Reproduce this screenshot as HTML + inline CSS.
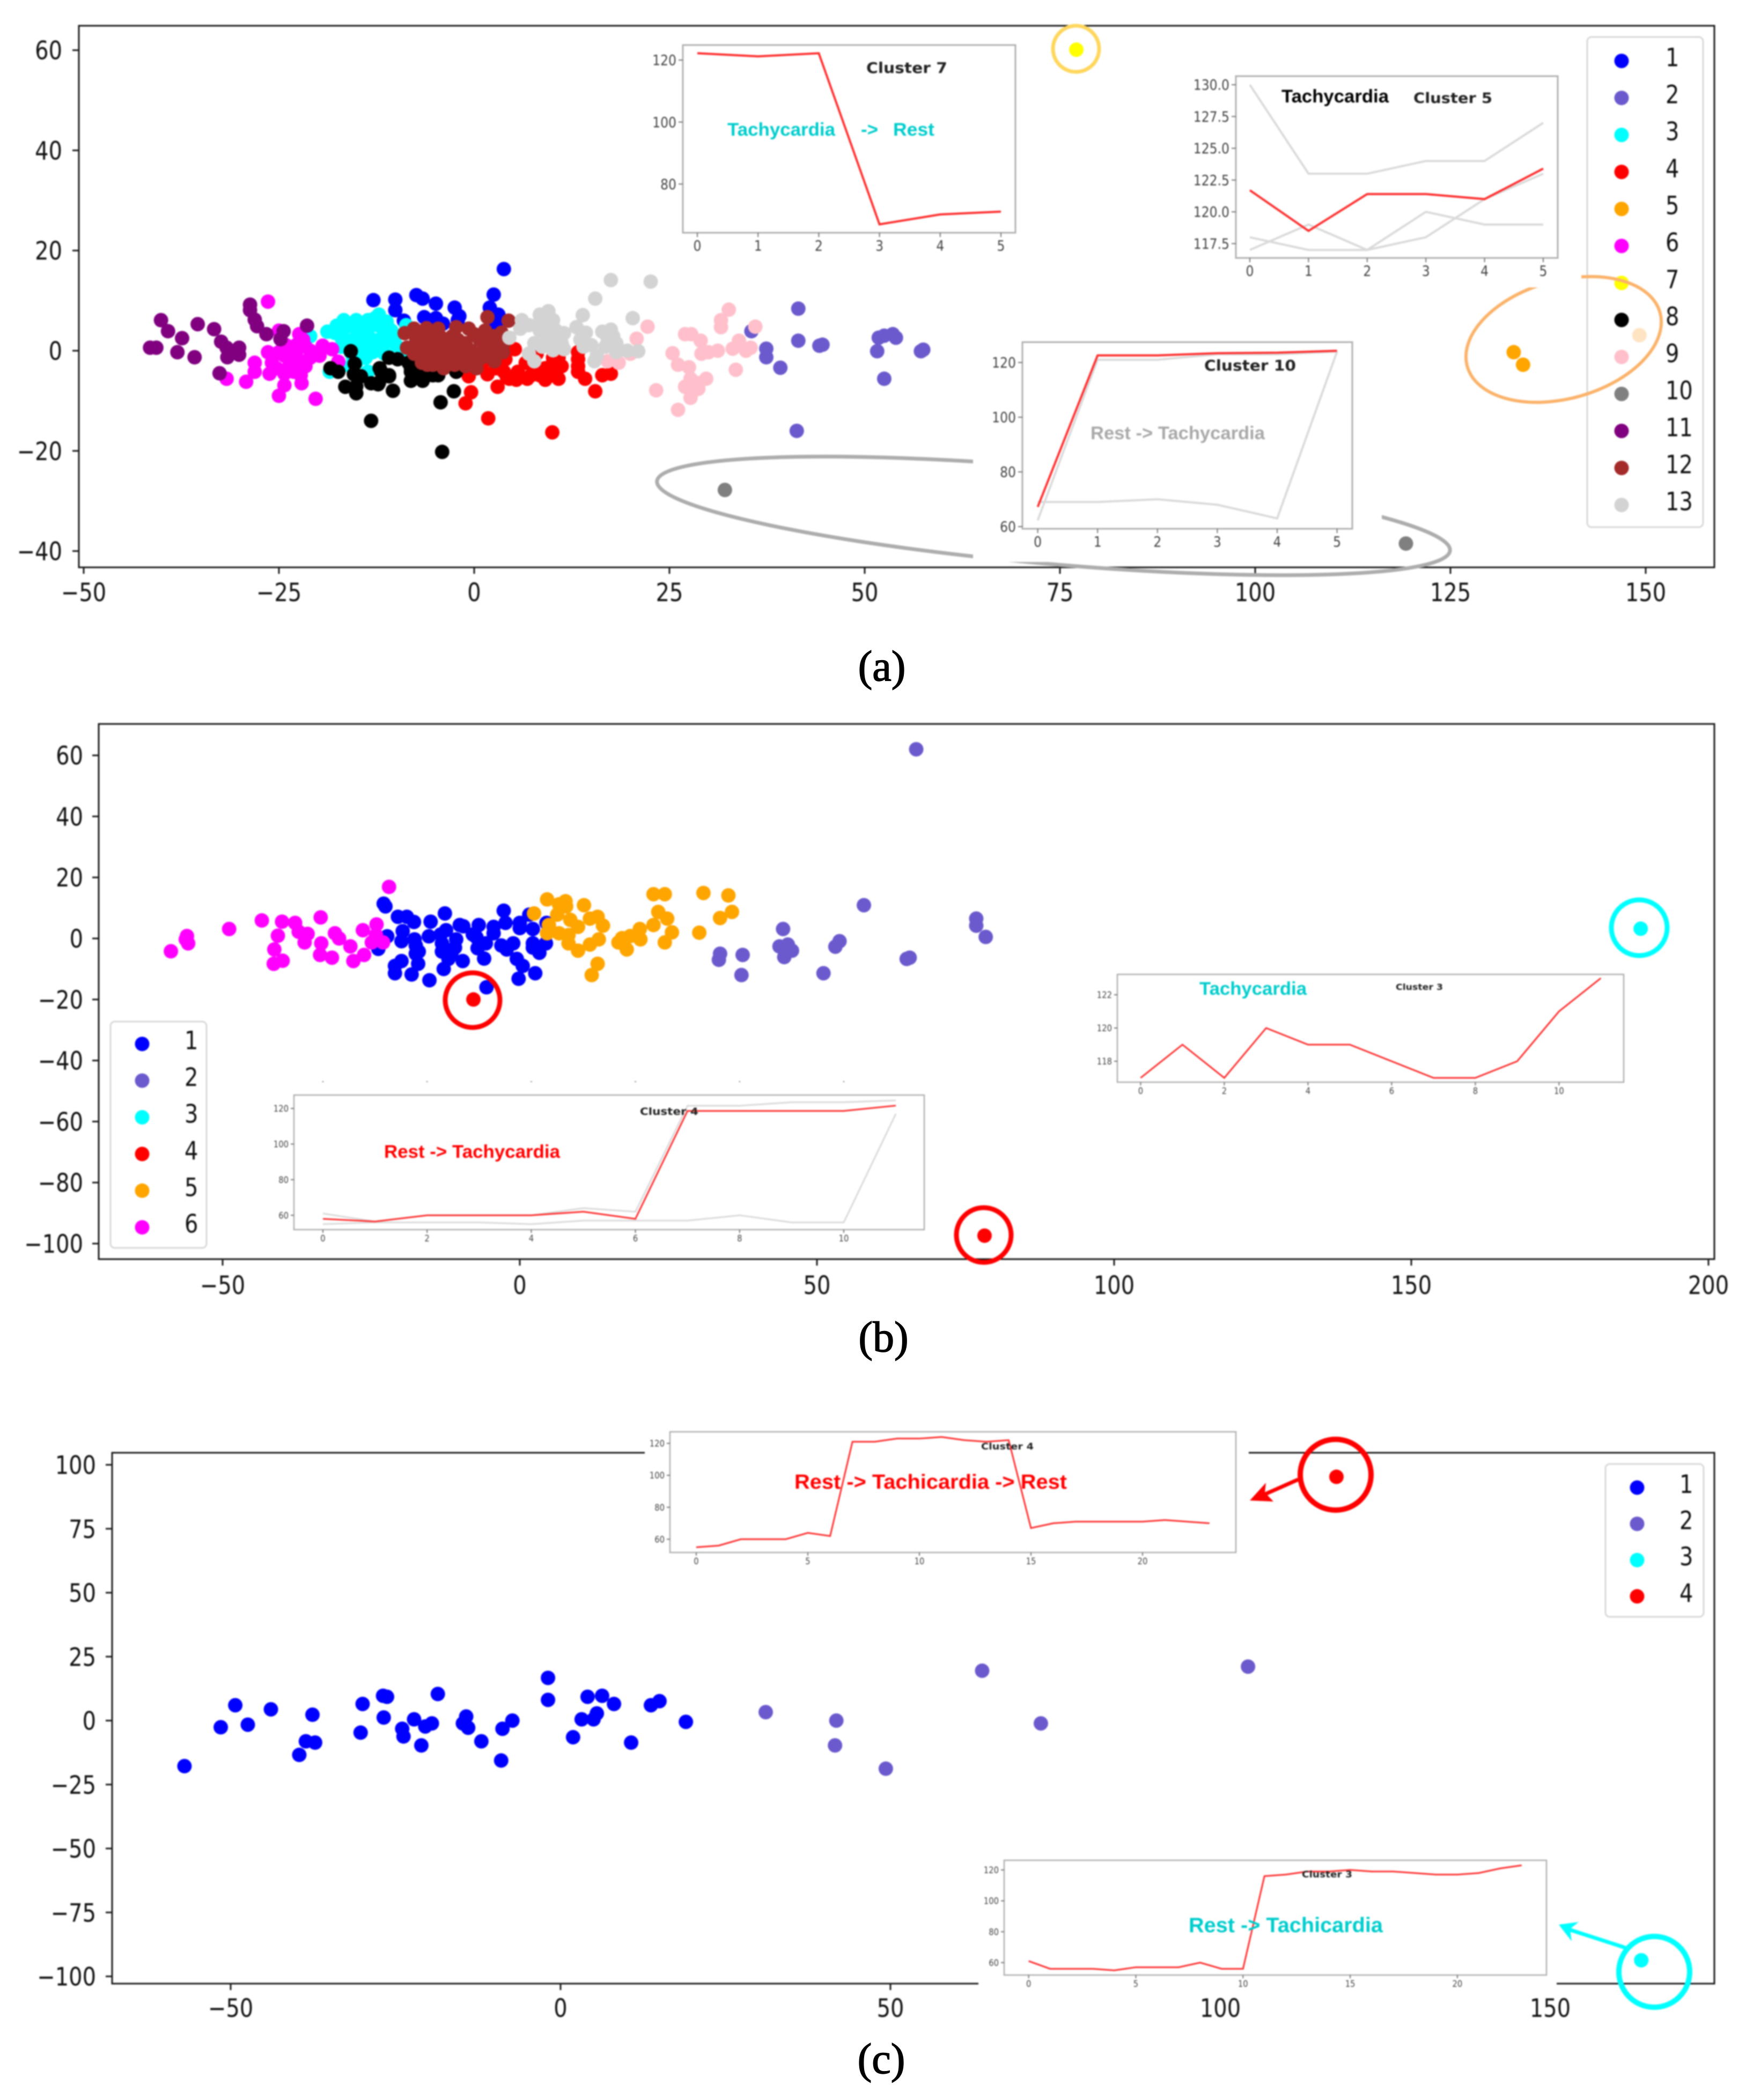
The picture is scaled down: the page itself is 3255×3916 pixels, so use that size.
<!DOCTYPE html>
<html lang="en">
<head>
<meta charset="utf-8">
<title>Cluster scatter plots with heart-rate insets</title>
<style>
html,body{margin:0;padding:0;background:#fff;}
svg{display:block;}
</style>
</head>
<body>
<svg id="figure" xmlns="http://www.w3.org/2000/svg" width="3255" height="3916" viewBox="0 0 3255 3916">
<defs>
<filter id="soft" filterUnits="userSpaceOnUse" x="0" y="0" width="3255" height="3916" color-interpolation-filters="sRGB"><feGaussianBlur stdDeviation="1.3"/></filter>
</defs>
<rect x="0" y="0" width="3255" height="3916" fill="#ffffff"/>
<g id="panelA" filter="url(#soft)"></g>
<g id="panelB" filter="url(#soft)"></g>
<g id="panelC" filter="url(#soft)"></g>
<text x="1644" y="1269" font-family="'Liberation Serif',serif" font-size="80" text-anchor="middle" fill="#000" stroke="#000" stroke-width="1.5">(a)</text>
<text x="1647" y="2520" font-family="'Liberation Serif',serif" font-size="80" text-anchor="middle" fill="#000" stroke="#000" stroke-width="1.5">(b)</text>
<text x="1643" y="3866" font-family="'Liberation Serif',serif" font-size="80" text-anchor="middle" fill="#000" stroke="#000" stroke-width="1.5">(c)</text>
</svg>
<script>
// ---------- Panel (a) data ----------
const aCluster1=[[3.8,16.3],[2.5,11.2],[2,8.6],[3.1,7.2],[-7.4,11.1],[-6.6,10.4],[-4.9,9.4],[-2.5,8.6],[-1.9,6.9],[-10.1,10.2],[-10.1,8.1],[-9,6],[-6.4,6.7],[-4.9,6.5],[-4,5.4],[-2.1,6.1],[2.8,5.4],[-12.9,10.1]];
const aCluster2=[[41.5,8.4],[41.5,2],[35.5,3.9],[37.4,0.4],[37.4,-1.3],[39.2,-3.4],[41.3,-16],[44.2,1],[44.6,1.2],[51.8,2.6],[52.5,3],[53.6,3.3],[54,2.6],[51.6,-0.1],[52.5,-5.6],[57.5,0.2],[57.2,-0.1]];
const aCluster3=[[-18.8,3.8],[-17.9,3.6],[-16.7,6.1],[-15.1,6.1],[-13.6,6.1],[-12.2,7.2],[-11.2,5.8],[-16.7,4.4],[-15.1,4.4],[-13.6,4.4],[-12.4,5.1],[-10.6,4],[-17,2.6],[-15.5,2.2],[-14.2,2.9],[-13,2.2],[-11.8,2.6],[-10.6,2.2],[-14.2,0.4],[-13,-0.3],[-11.8,0.8],[-10,1.1],[-17,0.8],[-15.8,-0.3],[-13.9,-1.4],[-15.8,-3.1],[-13.6,-4.2],[-18.5,-4.2],[-21,2.9],[-8.7,5.1],[-9.3,-1],[-14.5,1.1],[-17.6,5],[-16,5],[-14.5,5.4],[-12.7,6.5],[-16.4,1.5],[-10.9,4.4],[-10.2,2.9],[-12.4,0.4],[-15.5,-1.4],[-13.6,1.5],[-11.5,-0.6],[-15.1,-2.4]];
const aCluster4=[[5.2,0.3],[4,-1.7],[1.2,-2.2],[-0.7,-5.1],[1.7,-4.7],[3,-7.2],[4.2,-5.3],[5.4,-5.8],[6.8,-5.6],[8,-0.6],[6.6,-2.4],[9.1,-5.8],[10.8,-5.6],[10.1,-1.4],[11.2,-3.1],[9.1,-3.5],[13.3,-0.3],[13.3,-3.1],[14.2,-5.6],[16.4,-4.9],[17.5,-4.6],[15.5,-8.1],[-0.4,-8.3],[-1.1,-10.5],[1.8,-13.5],[10,-16.3],[2.8,-3.5],[5.6,-4.2],[8,-3.9],[10.5,-3.9],[7.3,-4.9],[8.4,-4.9],[9.8,-3.1],[3.8,-4.2],[4.5,-5.6],[9.8,-4.9],[13.3,-4.2],[13.3,-1.7],[10.8,-1.4]];
const aCluster5=[[133.1,-0.3],[134.3,-2.8]];
const aCluster6=[[-26.4,9.8],[-31.7,-5.6],[-29.2,-6.2],[-28.1,-2.4],[-28.1,-4.2],[-26.4,-0.3],[-26.2,-4.6],[-25.9,-2.4],[-25,-9],[-24.3,-6.9],[-22.1,-6.5],[-20.3,-9.6],[-17.4,-2.2],[-19.8,-1],[-18.2,0.3],[-19.4,1],[-22.4,3.3],[-21.9,2.2],[-21.6,0.8],[-23.1,0],[-24.3,-1],[-23.4,-1.4],[-22.2,-2.1],[-21.6,-3.1],[-24.3,-4.6],[-23.1,-4.2],[-22.2,-4.9],[-25,4],[-21,-1.4],[-25,-0.3],[-24.1,1.1],[-22.8,1.1],[-21,0],[-23.7,-3.1],[-25.3,-3.5],[-22.8,-1]];
const aCluster7=[[77.1,60.1]];
const aCluster8=[[-15.8,-0.1],[-15.3,-2.6],[-18.4,-3.5],[-17.4,-4.2],[-15.4,-4.7],[-14.5,-5.1],[-16.5,-7.2],[-15.1,-8.5],[-15.1,-7.1],[-13.2,-6.5],[-12.2,-6.4],[-12.1,-3.5],[-10.9,-4.9],[-10.4,-8],[-10.9,-1.4],[-9.8,-1.7],[-8.1,-3.5],[-8.1,-6],[-6.6,-6],[-6.6,-4.2],[-5.3,-4.9],[-4.3,-10.3],[-13.2,-14],[-4.1,-20.2],[-2.6,-8.1],[-2.3,-4.2],[-11.9,-4.2],[-10.9,-5.1],[-12.3,-6.7],[-8.1,-4.2],[-7.4,-5.3],[-5.3,-4.2],[-8.4,-2.4],[-6.7,-4.9],[-4.6,-4.9]];
const aCluster9=[[32.6,8.2],[31.6,6.1],[31.6,4.7],[22.2,4.8],[20.8,2.4],[27,3.3],[27.8,3.3],[29,2],[36,4.8],[25.4,-0.5],[26.1,-2.8],[27.5,-3.3],[29.1,-0.6],[30,-0.3],[31.2,0],[33.1,0.4],[33.9,2],[34.8,0],[35.4,0.6],[33.5,-3.8],[29.7,-5.6],[27.7,-5.6],[27,-7.2],[28.7,-7.6],[27.7,-9.4],[23.3,-7.9],[26.1,-11.8],[18.5,-2.4],[17.1,-2.1],[20,-0.6],[27.7,-7.1],[28,-8.1],[28.4,-6.4]];
const aCluster10=[[32.1,-27.8],[119.3,-38.5]];
const aCluster11=[[-40.1,6.1],[-39.2,3.9],[-37.4,2.5],[-35.4,5.3],[-33.3,4.3],[-32.4,1.8],[-31.7,0.6],[-31.6,-1.3],[-30.1,0.6],[-30.1,-0.8],[-32.6,-4.5],[-38,-0.3],[-35.8,-1.3],[-41.5,0.6],[-40.7,0.6],[-28.7,9.2],[-28.7,8.1],[-28.1,6.2],[-27.8,4.9],[-26.6,3.3],[-24.4,3.9],[-24.8,2.3],[-21.4,5]];
const aCluster12=[[1.7,6.7],[4.4,6],[-8.9,3.5],[-7.7,4.4],[-6.1,4.5],[-2.3,4.7],[-0.7,4.4],[-8.6,0.6],[-7.7,-0.6],[-6,-2.8],[-3.9,-3.5],[-2.5,-2.8],[0.3,-3.5],[2.6,-2.1],[3.7,-0.3],[1.4,1.1],[1.4,4],[2.4,2.9],[3.5,3.6],[-5.6,2.9],[-4.2,2.6],[-2.8,2.9],[-1.1,1.5],[0,3.3],[-6.7,1.1],[-5.3,0.8],[-3.9,0.4],[-2.5,0.1],[-1.1,-1],[0.3,-0.6],[-6.3,-1],[-4.9,-1.4],[-3.2,-1.7],[-1.4,-2.1],[2.1,-0.3],[-7,2.9],[-7.4,2.2],[-4.6,4.4],[-6,2.2],[-3.5,1.5],[-2.1,2.2],[0.7,2.2],[-4.9,-0.3],[-3.5,-1],[-2.1,-1.4],[-0.4,0],[1,-1.4],[2.4,0.4],[-5.3,-2.8],[-6.7,-2.4],[-1.1,-3.1],[0,-2.1],[3.1,2.2],[3.8,1.5],[2.8,-0.6]];
const aCluster13=[[17.5,14.1],[22.6,13.8],[15.5,10.4],[13.9,7.1],[20.3,6.5],[9.5,7.9],[8.4,7.2],[6.1,6.1],[10.1,6.1],[7,5.1],[5.9,4.4],[4.5,2.6],[9.8,4.4],[11.5,3.5],[13.1,4.7],[14.3,3.6],[16.4,3.8],[17.5,4.2],[10.1,2.2],[7.7,1.5],[8.7,0.8],[11.5,0.3],[13.6,2.2],[15,1.1],[17.1,2.2],[18.2,1.5],[7,-0.6],[7.7,-2.1],[15.4,-2.1],[18.2,-0.3],[19.6,0],[21,-0.1],[16.8,0.8],[9.3,2.9],[8.4,4],[9.1,1.5],[10.1,0.1],[14,0.8],[17.8,2.9],[15.7,-1],[8.4,5.8],[10.5,4],[9.8,1.5],[11.2,1.5]];
const aExtraPoint=[[149.2,3.1]];
const aXTicks=[-50,-25,0,25,50,75,100,125,150];
const aYTicks=[60,40,20,0,-20,-40];
const aLegendLabels=['1','2','3','4','5','6','7','8','9','10','11','12','13'];

// ---------- Panel (b) data ----------
const bCluster1=[[-22.9,11.4],[-22.6,10.5],[-20.5,7.1],[-19,7.1],[-17.8,5.4],[-15,5.5],[-12.6,8.2],[-2.7,9.1],[1.6,7.8],[4.5,5.1],[-10.1,4.4],[-6.9,4.4],[-4.4,3.8],[-2.4,5.1],[-9.5,4],[0,3.4],[2.2,3.1],[-22.3,0.7],[-19.7,2.4],[-19.9,-0.9],[-17.7,-0.3],[-15.3,0.7],[-12.4,2.7],[-13.3,1.3],[-10.7,-0.3],[-7.9,1.3],[-7.3,0.4],[-4.4,1.7],[0,5.1],[-23.8,-3.4],[-17.5,-2.3],[-17,-4.3],[-13.1,-1.6],[-10.9,-3],[-7.1,-3.2],[-5.7,-1.6],[-3.1,-2.3],[-1.1,-1.6],[2.2,-1.6],[4.4,-1.6],[-13.1,-4.3],[-11.5,-5],[-2.2,-3.6],[3.3,-4.7],[-19.9,-7.4],[-21,-9],[-17.1,-8.3],[-12,-6.7],[-9.6,-7.4],[-6,-6.6],[-0.5,-6.7],[0.5,-9],[-21,-11.4],[-18.2,-11.8],[-15.2,-13.7],[-12.8,-10],[-0.2,-13.2],[2.6,-11.4],[-5.6,-16],[2.2,-3],[-17.5,-5]];
const bCluster2=[[66.7,62],[57.9,10.9],[44.3,3.1],[76.8,6.5],[76.8,4.2],[78.4,0.5],[53.8,-0.9],[53.1,-2.7],[43.7,-2.6],[45.1,-2],[45.8,-4],[44.5,-6.1],[33.7,-5],[33.5,-7],[37.5,-5.4],[37.3,-12],[51.1,-11.4],[65.1,-6.7],[65.6,-6.3]];
const bCluster3=[[188.6,3.2]];
const bCluster4=[[-7.8,-20],[78.2,-97.4]];
const bCluster5=[[4.6,12.8],[6.6,11.2],[7.7,12.2],[7.8,10.5],[10.8,10.9],[2.4,8.2],[6.3,7.8],[8.5,6.1],[11.8,6.5],[13.1,7.1],[9.8,3.8],[14,4.2],[4.9,4.4],[4.6,1.7],[6.6,1.7],[8.2,1.1],[13.3,-0.3],[11.8,-2],[8.2,-1.6],[9.8,-4],[16.6,-1.3],[17.2,0.1],[18.6,0.8],[20.2,3.1],[20.3,-0.3],[18,-3.6],[13.1,-8.3],[12.1,-12],[22.5,14.5],[24.4,14.5],[23.3,8.7],[24.8,6.5],[22.5,4.4],[25.6,2],[24.4,-1.3],[30.9,14.9],[35.1,14.1],[35.7,8.7],[33.7,6.7],[30.2,1.9]];
const bCluster6=[[-22,16.9],[-43.4,5.9],[-40,5.5],[-37.8,5.1],[-33.5,6.9],[-48.9,3.1],[-56,0.8],[-56.2,-0.3],[-55.8,-1.6],[-58.7,-4.2],[-40.7,0.9],[-37.2,2.2],[-35.7,1.5],[-36.2,-1.3],[-33.4,-1.6],[-31.1,1.7],[-30.4,0],[-28.5,-2.6],[-26.4,2.7],[-24.1,4.6],[-24.9,-1.3],[-23,-1.3],[-41.3,-3.6],[-33.6,-5.4],[-31.6,-6.3],[-39.9,-7.3],[-41.4,-8.3],[-28,-7.4],[-26.2,-5.4],[-24.2,1.1]];
const bXTicks=[-50,0,50,100,150,200];
const bYTicks=[60,40,20,0,-20,-40,-60,-80,-100];
const bLegendLabels=['1','2','3','4','5','6'];

// ---------- Panel (c) data ----------
const cCluster1=[[-57,-17.8],[-51.5,-2.6],[-49.3,6],[-47.4,-1.6],[-43.9,4.4],[-39.6,-13.4],[-38.6,-8.1],[-37.6,2.3],[-37.2,-8.6],[-30.3,-4.7],[-30,6.5],[-26.8,1.2],[-26.9,9.7],[-26.3,9.3],[-24,-3.2],[-23.8,-6.2],[-22.2,0.5],[-21.1,-9.7],[-20.5,-2.3],[-19.5,-1.1],[-18.6,10.4],[-14.8,-1.1],[-14.3,1.6],[-14,-2.8],[-12,-8.1],[-8.8,-3.2],[-9,-15.6],[-7.3,0],[-1.9,16.7],[-1.9,8.1],[1.9,-6.5],[3.2,0.5],[4.1,9.3],[5,0.5],[5.5,2.8],[6.3,9.7],[8.1,6.5],[10.7,-8.6],[13.7,6],[15,7.6],[19,-0.5]];
const cCluster2=[[31.1,3.3],[41.8,0],[41.6,-9.7],[49.3,-18.8],[63.9,19.5],[72.8,-1.1],[104.2,21.1]];
const cCluster3=[[163.8,-93.7]];
const cCluster4=[[117.6,95.3]];
const cXTicks=[-50,0,50,100,150];
const cYTicks=[100,75,50,25,0,-25,-50,-75,-100];
const cLegendLabels=['1','2','3','4'];

// ---------- Inset line data ----------
const inset7Index=[0,1,2,3,4,5];
const inset7Red=[122.2,121.2,122.2,67,70.2,71.1];
const inset7XTicks=[0,1,2,3,4,5];
const inset7YTicks=[120,100,80];

const inset5Index=[0,1,2,3,4,5];
const inset5Red=[121.7,118.5,121.4,121.4,121,123.4];
const inset5GreyA=[130,123,123,124,124,127];
const inset5GreyB=[118,117,117,120,119,119];
const inset5GreyC=[117,119,117,118,121,123];
const inset5XTicks=[0,1,2,3,4,5];
const inset5YTicks=[130,127.5,125,122.5,120,117.5];
const inset5YLabels=['130.0','127.5','125.0','122.5','120.0','117.5'];

const inset10Index=[0,1,2,3,4,5];
const inset10Red=[67.2,122.6,122.6,123.4,123.6,124.3];
const inset10GreyA=[62.3,121,121,123,123,124];
const inset10GreyB=[69,69,70,68,63,124];
const inset10XTicks=[0,1,2,3,4,5];
const inset10YTicks=[120,100,80,60];

const insetB4Index=[0,1,2,3,4,5,6,7,8,9,10,11];
const insetB4Red=[58,56.5,60,60,60,62,58,118.6,118.6,118.6,118.6,121.6];
const insetB4GreyA=[61,56.5,60,60,60,64,62,121.5,121.5,123.5,123.5,124.5];
const insetB4GreyB=[55,56,56,56,55,57,57,57,60,56,56,117];
const insetB4XTicks=[0,2,4,6,8,10];
const insetB4YTicks=[120,100,80,60];

const insetB3Index=[0,1,2,3,4,5,6,7,8,9,10,11];
const insetB3Red=[117,119,117,120,119,119,118,117,117,118,121,123];
const insetB3XTicks=[0,2,4,6,8,10];
const insetB3YTicks=[122,120,118];

const insetC4Index=[0,1,2,3,4,5,6,7,8,9,10,11,12,13,14,15,16,17,18,19,20,21,22,23];
const insetC4Red=[55,56,60,60,60,64,62,121,121,123,123,124,122,121,122,67,70,71,71,71,71,72,71,70];
const insetC4XTicks=[0,5,10,15,20];
const insetC4YTicks=[120,100,80,60];

const insetC3Index=[0,1,2,3,4,5,6,7,8,9,10,11,12,13,14,15,16,17,18,19,20,21,22,23];
const insetC3Red=[61,56,56,56,55,57,57,57,60,56,56,116,117,119,119,120,119,119,118,117,117,118,121,123];
const insetC3XTicks=[0,5,10,15,20];
const insetC3YTicks=[120,100,80,60];

// ---------- Colours ----------
const BLUE='#0000ff',SLATE='#6a5acd',CYAN='#00ffff',RED='#ff0000',ORANGE='#ffa500',MAGENTA='#ff00ff',YELLOW='#ffff00',BLACK='#000000',PINK='#ffc0cb',GRAY='#808080',PURPLE='#800080',BROWN='#a52a2a',LIGHT='#d3d3d3';
const TEAL='#00cccc';
const SANS="'DejaVu Sans',sans-serif";
const LIB="'Liberation Sans',sans-serif";
const DOT_R=13.5;

// ---------- Axis functions ----------
const axAX=v=>884+v*14.56,  axAY=v=>654-v*9.34;
const axBX=v=>969+v*11.08,  axBY=v=>1750-v*5.69;
const axCX=v=>1045+v*12.3,  axCY=v=>3208.5-v*4.77;

// ---------- Helpers ----------
const NS='http://www.w3.org/2000/svg';
function mk(parent,tag,attrs){
  const el=document.createElementNS(NS,tag);
  for(const k in attrs) el.setAttribute(k,attrs[k]);
  parent.appendChild(el);
  return el;
}
function txt(parent,str,x,y,size,o){
  o=o||{};
  const sx=o.sx||1;
  const el=mk(parent,'text',{
    transform:'translate('+x+' '+y+') scale('+sx+' 1)',
    'font-family':o.family||SANS,
    'font-size':size,
    'font-weight':o.weight||'normal',
    'text-anchor':o.anchor||'start',
    fill:o.fill||'#111'
  });
  if(o.len){
    el.setAttribute('textLength',o.len);
    el.setAttribute('lengthAdjust','spacingAndGlyphs');
  }
  el.textContent=str;
  return el;
}
function frame(parent,l,t,r,b,xTicks,yTicks,fx,fy,yLabelRight,xLabelBase){
  const box=mk(parent,'rect',{x:l,y:t,width:r-l,height:b-t,fill:'#fff',stroke:'#1a1a1a','stroke-width':3});
  
  
  xTicks.forEach(v=>{
    const tick=mk(parent,'line',{x1:fx(v),x2:fx(v),y1:b,y2:b+12,stroke:'#1a1a1a','stroke-width':3});
    
    
    const lab=txt(parent,String(v).replace('-','\u2212'),fx(v),xLabelBase,47,{anchor:'middle',sx:0.85});
    
    
  });
  yTicks.forEach(v=>{
    const tick=mk(parent,'line',{x1:l-12,x2:l,y1:fy(v),y2:fy(v),stroke:'#1a1a1a','stroke-width':3});
    
    
    const lab=txt(parent,String(v).replace('-','\u2212'),yLabelRight,fy(v)+17,47,{anchor:'end',sx:0.85});
    
    
  });
}
function scatter(parent,pts,color,name,fx,fy){
  const g=mk(parent,'g',{fill:color});
  
  
  pts.forEach(p=>{
    const c=mk(g,'circle',{cx:fx(p[0]),cy:fy(p[1]),r:DOT_R});
    
    
  });
}
function legend(parent,l,t,r,b,labels,colors,mx,my0,step,tx){
  const g=mk(parent,'g',{});
  
  
  const box=mk(g,'rect',{x:l,y:t,width:r-l,height:b-t,rx:8,ry:8,fill:'#fff',stroke:'#d8d8d8','stroke-width':3});
  
  
  labels.forEach((s,i)=>{
    const m=mk(g,'circle',{cx:mx,cy:my0+i*step,r:DOT_R,fill:colors[i]});
    
    
    const lab=txt(g,s,tx,my0+i*step-7+17,47,{sx:0.85});
    
    
  });
}
function inset(parent,cfg){
  const g=mk(parent,'g',{});
  
  
  if(cfg.cover){
    const c=cfg.cover;
    const cov=mk(g,'rect',{x:c[0],y:c[1],width:c[2]-c[0],height:c[3]-c[1],fill:'#fff'});
    
    
  }
  const b=cfg.box;
  const frameEl=mk(g,'rect',{x:b[0],y:b[1],width:b[2]-b[0],height:b[3]-b[1],fill:'#fff',stroke:'#b0b0b0','stroke-width':cfg.bw||3});
  
  
  cfg.xTicks.forEach(v=>{
    const t=mk(g,'line',{x1:cfg.fx(v),x2:cfg.fx(v),y1:b[3],y2:b[3]+cfg.tl,stroke:'#777','stroke-width':2});
    
    
    const l=txt(g,String(v),cfg.fx(v),b[3]+cfg.tl+cfg.fs*0.95,cfg.fs,{anchor:'middle',sx:0.87,fill:'#444'});
    
    
    if(cfg.stubY){
      const s=mk(g,'line',{x1:cfg.fx(v),x2:cfg.fx(v),y1:cfg.stubY,y2:cfg.stubY+2,stroke:'#999','stroke-width':3});
      
      
    }
  });
  cfg.yTicks.forEach((v,i)=>{
    const t=mk(g,'line',{x1:b[0]-cfg.tl,x2:b[0],y1:cfg.fy(v),y2:cfg.fy(v),stroke:'#777','stroke-width':2});
    
    
    const s=cfg.yLabels?cfg.yLabels[i]:String(v);
    const l=txt(g,s,b[0]-cfg.tl-4,cfg.fy(v)+cfg.fs*0.36,cfg.fs,{anchor:'end',sx:0.87,fill:'#444'});
    
    
  });
  (cfg.grey||[]).forEach(vals=>{
    const p=mk(g,'polyline',{points:vals.map((v,i)=>cfg.fx(cfg.index[i])+','+cfg.fy(v)).join(' '),fill:'none',stroke:'#dadada','stroke-width':cfg.lw});
    
    
  });
  const red=mk(g,'polyline',{points:cfg.red.map((v,i)=>cfg.fx(cfg.index[i])+','+cfg.fy(v)).join(' '),fill:'none',stroke:'#ff3030','stroke-width':cfg.lw});
  
  
  const ct=cfg.title;
  const title=txt(g,ct[0],ct[1],ct[2],ct[3],{weight:'bold',len:ct[4],fill:'#222'});
  
  
  (cfg.notes||[]).forEach(n=>{
    const t=txt(g,n[0],n[1],n[2],n[3],{family:LIB,weight:'bold',fill:n[5],len:n[4]});
    
    
  });
}
function ring(parent,cx,cy,r,color,w,name){
  const e=mk(parent,'circle',{cx:cx,cy:cy,r:r,fill:'none',stroke:color,'stroke-width':w});
  
  
}

// ---------- Panel (a) ----------
const pA=document.getElementById('panelA');
frame(pA,147,48,3196,1058,aXTicks,aYTicks,axAX,axAY,116,1121);
legend(pA,2959,69,3175,983,aLegendLabels,[BLUE,SLATE,CYAN,RED,ORANGE,MAGENTA,YELLOW,BLACK,PINK,GRAY,PURPLE,BROWN,LIGHT],3023,113.6,69,3105);
scatter(pA,aCluster1,BLUE,'a-cluster-1',axAX,axAY);
scatter(pA,aCluster2,SLATE,'a-cluster-2',axAX,axAY);
scatter(pA,aCluster3,CYAN,'a-cluster-3',axAX,axAY);
scatter(pA,aCluster4,RED,'a-cluster-4',axAX,axAY);
scatter(pA,aCluster5,ORANGE,'a-cluster-5',axAX,axAY);
scatter(pA,aCluster6,MAGENTA,'a-cluster-6',axAX,axAY);
scatter(pA,aCluster7,YELLOW,'a-cluster-7',axAX,axAY);
scatter(pA,aCluster8,BLACK,'a-cluster-8',axAX,axAY);
scatter(pA,aCluster9,PINK,'a-cluster-9',axAX,axAY);
scatter(pA,aCluster10,GRAY,'a-cluster-10',axAX,axAY);
scatter(pA,aCluster11,PURPLE,'a-cluster-11',axAX,axAY);
scatter(pA,aCluster12,BROWN,'a-cluster-12',axAX,axAY);
scatter(pA,aCluster13,LIGHT,'a-cluster-13',axAX,axAY);
scatter(pA,aExtraPoint,'#ffe4c4','a-extra-cluster',axAX,axAY);

const oEll=mk(pA,'ellipse',{cx:2915,cy:633,rx:186.5,ry:110,transform:'rotate(-15.6 2915 633)',fill:'none',stroke:'#fbb36b','stroke-width':6});


const gEll=mk(pA,'ellipse',{cx:1964,cy:962,rx:742,ry:90,transform:'rotate(5 1964 962)',fill:'none',stroke:'#adadad','stroke-width':7});


ring(pA,2006,91,43,'#ffd75e',7,'cluster-7-highlight-circle');

inset(pA,{name:'inset-cluster-7',box:[1273,84,1893,434],tl:8,fs:27,lw:4,
  fx:v=>1300+v*113.2,fy:v=>112+(120-v)*5.78,index:inset7Index,red:inset7Red,xTicks:inset7XTicks,yTicks:inset7YTicks,
  title:['Cluster 7',1615,136,28,151],
  notes:[['Tachycardia',1356,253,34,201,TEAL],['->',1605,253,34,32,TEAL],['Rest',1665,253,34,77,TEAL]]});
inset(pA,{name:'inset-cluster-5',box:[2304,142,2904,481],cover:[2240,100,2948,536],tl:8,fs:27,lw:4,
  fx:v=>2330+v*109.4,fy:v=>395-(v-120)*23.7,index:inset5Index,red:inset5Red,grey:[inset5GreyA,inset5GreyB,inset5GreyC],xTicks:inset5XTicks,yTicks:inset5YTicks,yLabels:inset5YLabels,
  title:['Cluster 5',2635,192,27,147],
  notes:[['Tachycardia',2389,191,34,200,'#000']]});
inset(pA,{name:'inset-cluster-10',box:[1906,638,2521,986],cover:[1814,600,2576,1048],tl:8,fs:27,lw:4,
  fx:v=>1934.6+v*111.6,fy:v=>676+(120-v)*5.1,index:inset10Index,red:inset10Red,grey:[inset10GreyA,inset10GreyB],xTicks:inset10XTicks,yTicks:inset10YTicks,
  title:['Cluster 10',2245,691,28,171],
  notes:[['Rest -> Tachycardia',2033,819,34,325,'#a9a9a9']]});

// ---------- Panel (b) ----------
const pB=document.getElementById('panelB');
frame(pB,184,1350,3196,2348,bXTicks,bYTicks,axBX,axBY,155,2413);
legend(pB,206,1905,385,2327,bLegendLabels,[BLUE,SLATE,CYAN,RED,ORANGE,MAGENTA],265,1946.7,68.4,344);
scatter(pB,bCluster1,BLUE,'b-cluster-1',axBX,axBY);
scatter(pB,bCluster2,SLATE,'b-cluster-2',axBX,axBY);
scatter(pB,bCluster3,CYAN,'b-cluster-3',axBX,axBY);
scatter(pB,bCluster4,RED,'b-cluster-4',axBX,axBY);
scatter(pB,bCluster5,ORANGE,'b-cluster-5',axBX,axBY);
scatter(pB,bCluster6,MAGENTA,'b-cluster-6',axBX,axBY);
ring(pB,881,1865,51,RED,9,'cluster-4-highlight-circle-upper');
ring(pB,1834,2303,51,RED,9,'cluster-4-highlight-circle-lower');
ring(pB,3056,1730,52,CYAN,9,'cluster-3-highlight-circle');

inset(pB,{name:'inset-b-cluster-4',box:[548,2042,1723,2293],tl:6,fs:17,lw:3,bw:2.5,stubY:2016,
  fx:v=>602+v*97.1,fy:v=>2067+(120-v)*3.32,index:insetB4Index,red:insetB4Red,grey:[insetB4GreyA,insetB4GreyB],xTicks:insetB4XTicks,yTicks:insetB4YTicks,
  title:['Cluster 4',1193,2079,19,109],
  notes:[['Rest -> Tachycardia',716,2159,34,328,'#ff0000']]});
inset(pB,{name:'inset-b-cluster-3',box:[2083,1817,3027,2018],tl:6,fs:17,lw:3,bw:2.5,
  fx:v=>2126.4+v*78,fy:v=>1855+(122-v)*31,index:insetB3Index,red:insetB3Red,xTicks:insetB3XTicks,yTicks:insetB3YTicks,
  title:['Cluster 3',2602,1846,16,88],
  notes:[['Tachycardia',2236,1855,34,200,TEAL]]});

// ---------- Panel (c) ----------
const pC=document.getElementById('panelC');
frame(pC,209,2709,3196,3699,cXTicks,cYTicks,axCX,axCY,179,3761);
legend(pC,2993,2730,3176,3015,cLegendLabels,[BLUE,SLATE,CYAN,RED],3052,2774,67.6,3131);
scatter(pC,cCluster1,BLUE,'c-cluster-1',axCX,axCY);
scatter(pC,cCluster2,SLATE,'c-cluster-2',axCX,axCY);
inset(pC,{name:'inset-c-cluster-4',box:[1249,2670,2304,2895],cover:[1202,2660,2328,2930],tl:6,fs:17,lw:3,bw:2.5,
  fx:v=>1298+v*41.6,fy:v=>2691.5+(120-v)*2.98,index:insetC4Index,red:insetC4Red,xTicks:insetC4XTicks,yTicks:insetC4YTicks,
  title:['Cluster 4',1829,2703,17,98],
  notes:[['Rest -> Tachicardia -> Rest',1481,2776,38,508,'#ff0000']]});
inset(pC,{name:'inset-c-cluster-3',box:[1872,3469,2883,3683],cover:[1824,3440,2902,3716],tl:6,fs:17,lw:3,bw:2.5,
  fx:v=>1917.7+v*39.96,fy:v=>3487+(120-v)*2.88,index:insetC3Index,red:insetC3Red,xTicks:insetC3XTicks,yTicks:insetC3YTicks,
  title:['Cluster 3',2427,3501,17,94],
  notes:[['Rest -> Tachicardia',2216,3603,39,362,TEAL]]});
scatter(pC,cCluster3,CYAN,'c-cluster-3',axCX,axCY);
scatter(pC,cCluster4,RED,'c-cluster-4',axCX,axCY);
ring(pC,2490,2750,66,RED,10,'cluster-4-highlight-circle');
ring(pC,3084,3677,66,CYAN,10,'cluster-3-highlight-circle');

const redShaft=mk(pC,'line',{x1:2420,y1:2759,x2:2350,y2:2790,stroke:RED,'stroke-width':7});


const redHead=mk(pC,'polygon',{points:'2330,2798 2360,2765 2358,2783 2374,2800',fill:RED});


const cyanShaft=mk(pC,'line',{x1:3030,y1:3632,x2:2925,y2:3598,stroke:CYAN,'stroke-width':7});


const cyanHead=mk(pC,'polygon',{points:'2906,3589 2943,3584 2927,3597 2930,3620',fill:CYAN});


</script>
</body>
</html>
